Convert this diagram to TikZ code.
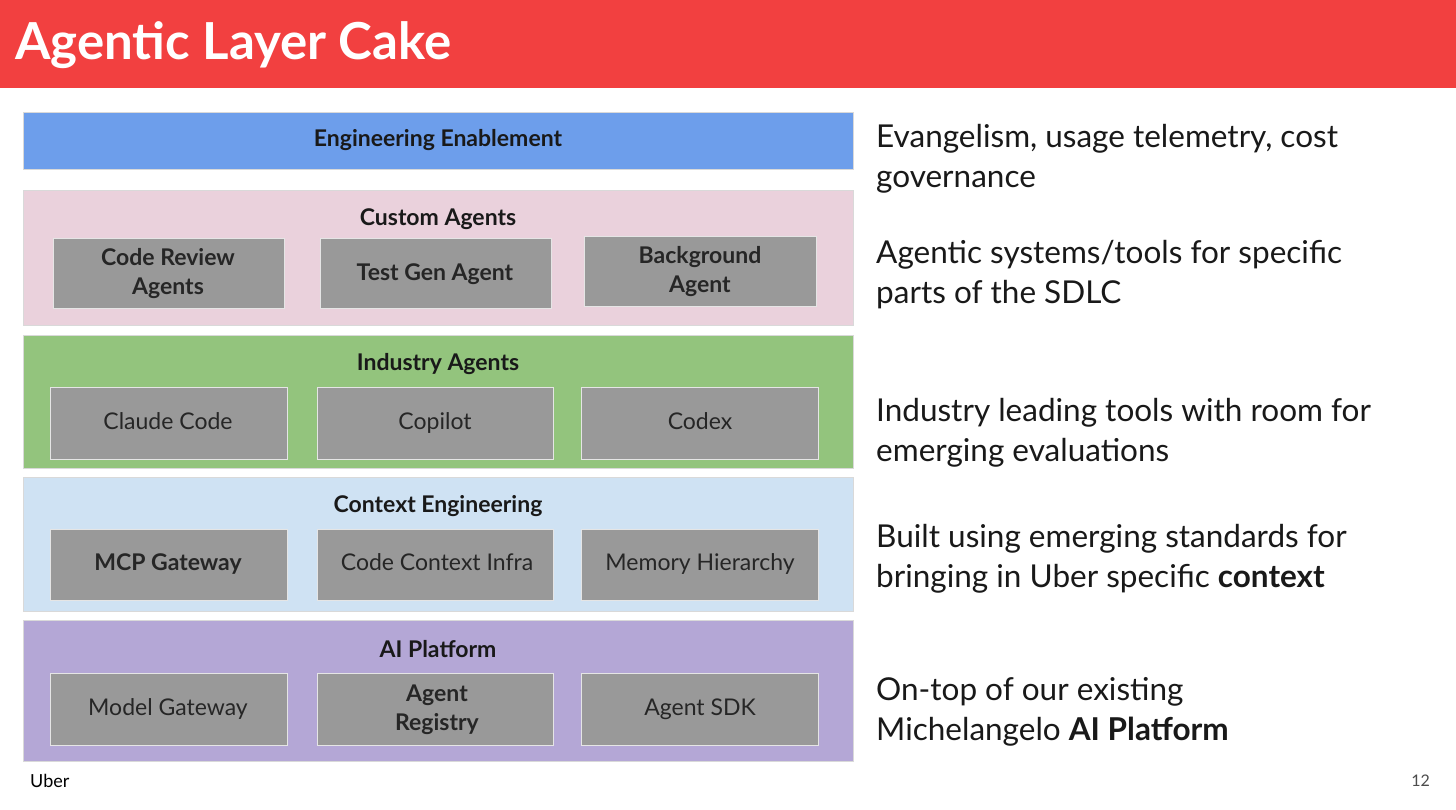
\documentclass[tikz,border=0pt]{standalone}
\usepackage{fontspec}
\setmainfont{Lato}
\begin{document}
\begin{tikzpicture}[x=1pt,y=-1pt,
 layer/.style={draw=white!85!black,line width=0.8pt,inner sep=0},
 box/.style={draw=white!90!black,line width=1pt,fill=black!40,text=black!85,align=center,font=\fontsize{23}{29}\selectfont},
 bt/.style={draw=none,fill=none,text=black!85,align=center,font=\fontsize{23}{29}\selectfont},
 bb/.style={bt,font=\bfseries\fontsize{23}{29}\selectfont},
 lt/.style={font=\bfseries\fontsize{23}{26}\selectfont,text=black!90},
 rt/.style={anchor=north west,align=left,font=\fontsize{31.5}{40}\selectfont,text=black!90,inner sep=0}]
\definecolor{red1}{HTML}{F24040}
\definecolor{blue1}{HTML}{6D9EEB}
\definecolor{pink1}{HTML}{EAD1DC}
\definecolor{green1}{HTML}{93C47D}
\definecolor{lblue1}{HTML}{CFE2F3}
\definecolor{purp1}{HTML}{B4A7D6}
\useasboundingbox (0,0) rectangle (1456,809);
\fill[white] (0,0) rectangle (1456,809);
\fill[red1] (0,0) rectangle (1456,88);
\node[anchor=west,text=white,font=\bfseries\fontsize{51}{55}\selectfont,inner sep=0] (title) at (15,45) {Agentic Layer Cake};
% layers
\draw[layer,fill=blue1] (23,112) rectangle (853,169);
\node[lt] (ee) at (438,140) {Engineering Enablement};
\draw[layer,fill=pink1] (23,190) rectangle (853,325);
\node[lt] (ca) at (438,219) {Custom Agents};
\draw[layer,fill=green1] (23,335) rectangle (853,468);
\node[lt] (ia) at (438,364) {Industry Agents};
\draw[layer,fill=lblue1] (23,477) rectangle (853,611);
\node[lt] (ce) at (438,506) {Context Engineering};
\draw[layer,fill=purp1] (23,620) rectangle (853,761);
\node[lt] (ap) at (438,649) {AI Platform};
% boxes
\draw[box] (53,238) rectangle (284,308); \node[bb] (b1) at (168,274) {Code Review\\Agents};
\draw[box] (320,238) rectangle (551,308); \node[bb] (b2) at (435,274) {Test Gen Agent};
\draw[box] (584,236) rectangle (816,306); \node[bb] (b3) at (700,272) {Background\\Agent};
\draw[box] (50,387) rectangle (287,459); \node[bt] (b4) at (168,424) {Claude Code\strut};
\draw[box] (317,387) rectangle (553,459); \node[bt] (b5) at (435,424) {Copilot\strut};
\draw[box] (581,387) rectangle (818,459); \node[bt] (b6) at (700,424) {Codex\strut};
\draw[box] (50,529) rectangle (287,600); \node[bb] (b7) at (168,565) {MCP Gateway\strut};
\draw[box] (317,529) rectangle (553,600); \node[bt] (b8) at (437,565) {Code Context Infra\strut};
\draw[box] (581,529) rectangle (818,600); \node[bt] (b9) at (700,565) {Memory Hierarchy\strut};
\draw[box] (50,673) rectangle (287,745); \node[bt] (b10) at (168,710) {Model Gateway\strut};
\draw[box] (317,673) rectangle (553,745); \node[bb] (b11) at (437,710) {Agent\\Registry};
\draw[box] (581,673) rectangle (818,745); \node[bt] (b12) at (700,710) {Agent SDK\strut};
% right texts
\node[rt] (r1) at (876,124) {Evangelism, usage telemetry, cost\\governance};
\node[rt] (r2) at (876,240) {Agentic systems/tools for specific\\parts of the SDLC};
\node[rt] (r3) at (876,398) {Industry leading tools with room for\\emerging evaluations};
\node[rt] (r4) at (876,524) {Built using emerging standards for\\bringing in Uber specific \textbf{context}};
\node[rt] (r5) at (876,677) {On-top of our existing\\Michelangelo \textbf{AI Platform}};
\node[anchor=west,font=\fontsize{18}{20}\selectfont,inner sep=0] (uber) at (30,781) {Uber};
\node[anchor=east,font=\fontsize{16}{18}\selectfont,text=black!70,inner sep=0] (pg) at (1430,781) {12};
\end{tikzpicture}
\end{document}
